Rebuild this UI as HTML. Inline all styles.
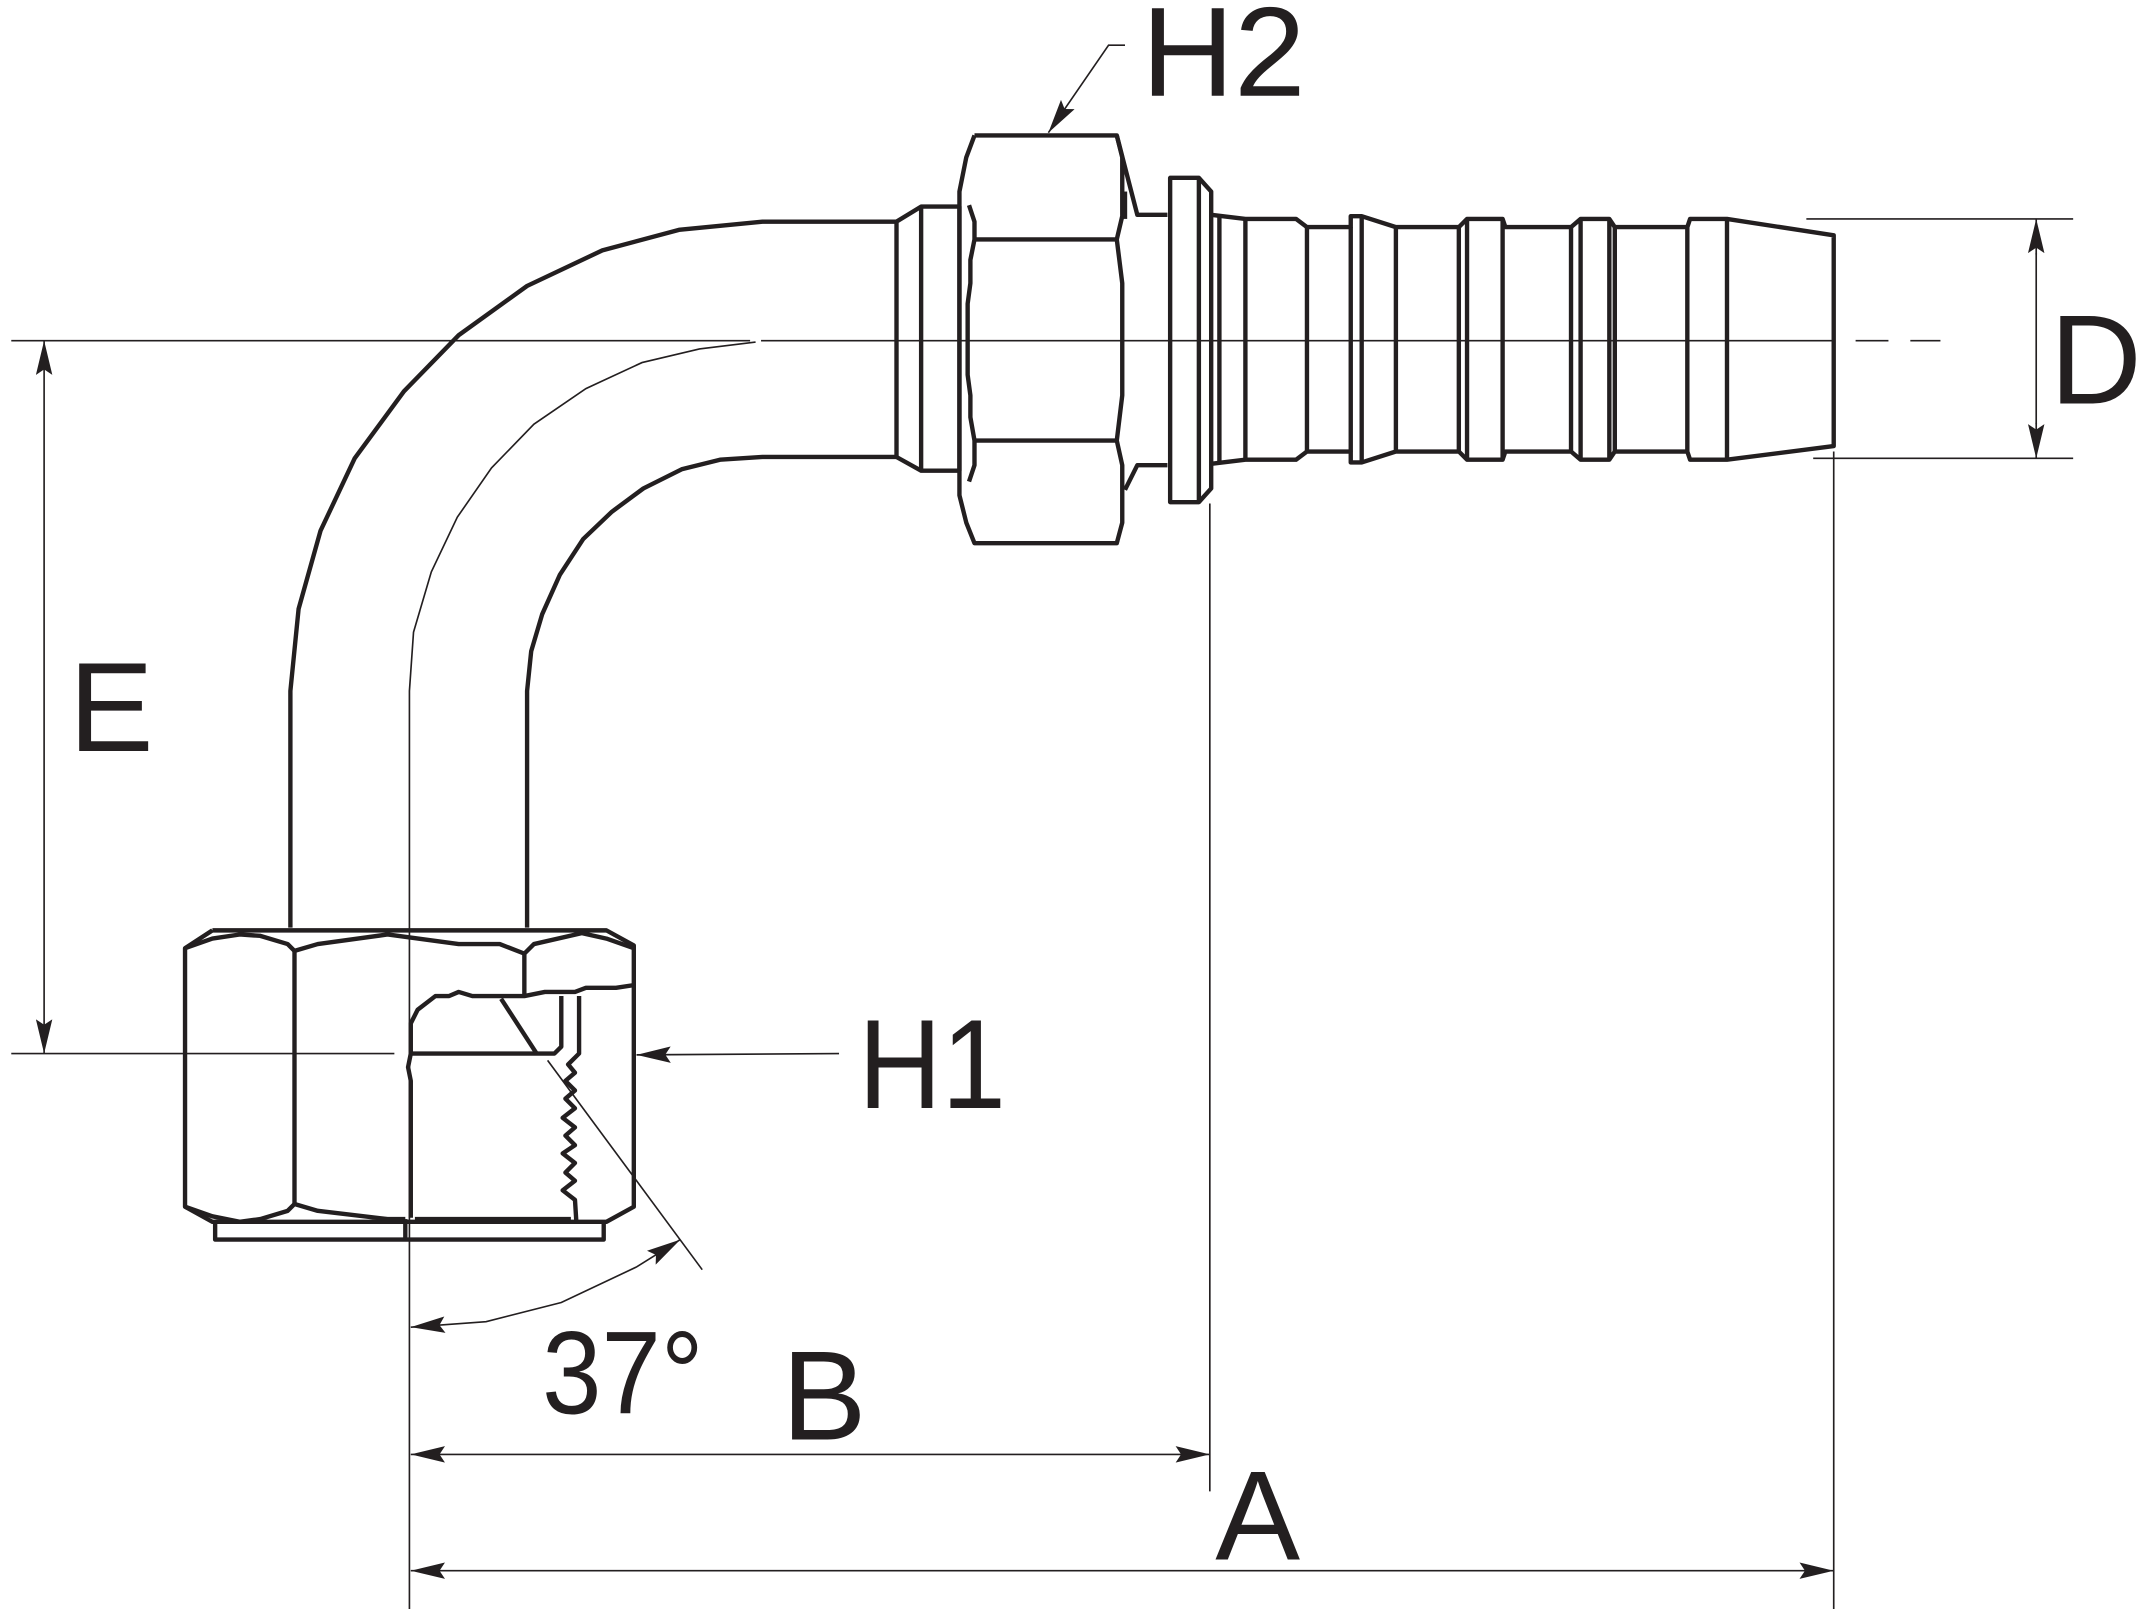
<!DOCTYPE html>
<html><head><meta charset="utf-8"><style>html,body{margin:0;padding:0;background:#fff}svg{display:block}</style></head>
<body>
<svg width="2146" height="1609" viewBox="0 0 1568 1176" xmlns="http://www.w3.org/2000/svg">
<defs>
<marker id="ar" markerUnits="userSpaceOnUse" markerWidth="26" markerHeight="12" refX="25" refY="6" orient="auto-start-reverse"><path d="M0,0 L25,6 L0,12 L4,6 Z" fill="#231f20"/></marker>
</defs>
<g fill="none" stroke="#231f20" stroke-width="1.2">
<line x1="8" y1="249" x2="548" y2="249"/>
<line x1="556" y1="249" x2="1340" y2="249"/>
<line x1="1356" y1="249" x2="1380" y2="249"/>
<line x1="1396" y1="249" x2="1418" y2="249"/>
<polyline points="299,1176 299,505 302,462 315,418 334,378 359,342 390,310 428,284 469,265 511,255 552,250"/>
<line x1="1320" y1="160" x2="1515" y2="160"/>
<line x1="1325" y1="335" x2="1515" y2="335"/>
<line x1="1488" y1="185" x2="1488" y2="310"/>
<line x1="1488" y1="160" x2="1488" y2="186" marker-start="url(#ar)"/>
<line x1="1488" y1="335" x2="1488" y2="309" marker-start="url(#ar)"/>
<line x1="8" y1="770" x2="288" y2="770"/>
<line x1="32" y1="249" x2="32" y2="770" marker-start="url(#ar)" marker-end="url(#ar)"/>
<line x1="884" y1="368" x2="884" y2="1090"/>
<line x1="1340" y1="330" x2="1340" y2="1176"/>
<line x1="300" y1="1063" x2="884" y2="1063" marker-start="url(#ar)" marker-end="url(#ar)"/>
<line x1="300" y1="1148" x2="1340" y2="1148" marker-start="url(#ar)" marker-end="url(#ar)"/>
<line x1="613" y1="770" x2="465" y2="771" marker-end="url(#ar)"/>
<polyline points="822,33 810,33 766,97" marker-end="url(#ar)"/>
<line x1="400" y1="775" x2="513" y2="928"/>
<polyline points="497,906 465,926 410,952 355,966 300,970" marker-start="url(#ar)" marker-end="url(#ar)"/>
</g>
<g fill="none" stroke="#231f20" stroke-width="3.2" stroke-linejoin="round">
<polyline points="212,678 212,505 218,445 234,388 259,335 295,286 335,245 385,209 440,183 496,168 557,162 655,162"/>
<polyline points="385,678 385,505 388,476 396,449 409,420 426,394 447,374 470,357 498,343 526,336 557,334 655,334"/>
<polyline points="655,162 673,151 701,151 701,344 673,344 655,334 655,162"/>
<line x1="673" y1="151" x2="673" y2="344"/>
<polyline points="712,99 816,99 820,115 820,158 816,175 820,207 820,289 816,322 820,340 820,382 816,397 712,397 706,382 701,362 701,140 706,115 712,99"/>
<line x1="712" y1="175" x2="816" y2="175"/><line x1="712" y1="322" x2="816" y2="322"/>
<polyline points="708,150 712,162 712,175 709,190 709,207 707,222 707,274 709,289 709,305 712,322 712,340 708,352"/>
<polyline points="816,99 831,157 853,157"/>
<polyline points="822,358 831,340 853,340"/>
<line x1="822" y1="140" x2="822" y2="160"/>
<rect x="855" y="130" width="21" height="237"/>
<polyline points="876,130 885,140 885,357 876,367"/>
<polyline points="885,157 910,160 947,160 955,166 987,166 987,158 995,158 1020,166 1066,166 1072,160 1098,160 1100,166 1148,166 1155,160 1176,160 1180,166 1233,166 1235,160 1262,160 1340,172 1340,326 1262,336 1235,336 1233,330 1180,330 1176,336 1155,336 1148,330 1100,330 1098,336 1072,336 1066,330 1020,330 995,338 987,338 987,330 955,330 947,336 910,336 885,339"/>
<g>
<line x1="891" y1="158" x2="891" y2="338"/><line x1="910" y1="160" x2="910" y2="336"/>
<line x1="955" y1="166" x2="955" y2="330"/><line x1="987" y1="166" x2="987" y2="330"/>
<line x1="995" y1="158" x2="995" y2="338"/><line x1="1020" y1="166" x2="1020" y2="330"/>
<line x1="1066" y1="166" x2="1066" y2="330"/><line x1="1072" y1="160" x2="1072" y2="336"/>
<line x1="1098" y1="160" x2="1098" y2="336"/><line x1="1148" y1="166" x2="1148" y2="330"/>
<line x1="1155" y1="160" x2="1155" y2="336"/><line x1="1176" y1="160" x2="1176" y2="336"/>
<line x1="1180" y1="166" x2="1180" y2="330"/><line x1="1233" y1="166" x2="1233" y2="330"/>
<line x1="1262" y1="160" x2="1262" y2="336"/>
</g>
<polyline points="155,680 443,680 463,691 463,882 443,893 155,893 135,882 135,693 155,680"/>
<polyline points="135,693 155,686 175,683 190,684 210,690 215,695 232,690 283,683 335,690 365,690 383,697 390,690 425,682 443,686 463,693"/>
<polyline points="135,882 155,889 175,893 190,891 210,885 215,880 232,885 283,891 296,891"/>
<line x1="215" y1="695" x2="215" y2="880"/>
<line x1="383" y1="697" x2="383" y2="728"/>
<polyline points="157,893 157,906 441,906 441,893"/>
<line x1="296" y1="891" x2="296" y2="906"/>
<polyline points="300,890 300,790 298,780 300,770 300,748 305,738 318,728 328,728 335,725 345,728 365,728 383,728 398,725 420,725 428,722 450,722 463,720"/>
<polyline points="300,770 405,770 410,765 410,728"/>
<line x1="366" y1="730" x2="392" y2="770"/>
<polyline points="423,728 423,770 415,778 420,784 413,790 420,797 413,803 420,810 411,817 420,824 413,830 420,837 411,843 420,850 413,857 420,863 411,870 420,877 421,893"/>
<line x1="303" y1="891" x2="417" y2="891"/>
</g>
<g font-family="Liberation Sans, sans-serif" font-size="93" fill="#231f20">
<text x="834" y="70" textLength="120" lengthAdjust="spacingAndGlyphs">H2</text>
<text x="1498" y="295">D</text>
<text x="50" y="549">E</text>
<text x="627" y="810" textLength="108" lengthAdjust="spacingAndGlyphs">H1</text>
<text x="396" y="1033" font-size="86" textLength="118" lengthAdjust="spacingAndGlyphs">37°</text>
<text x="571" y="1052">B</text>
<text x="888" y="1140">A</text>
</g>
</svg>
</body></html>
